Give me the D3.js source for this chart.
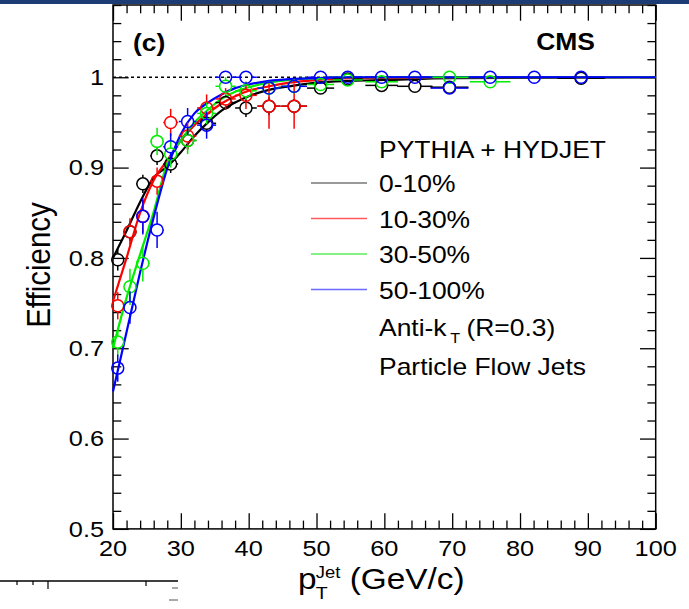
<!DOCTYPE html>
<html><head><meta charset="utf-8">
<script src="https://cdn.jsdelivr.net/npm/d3@7"></script>
<style>
html,body{margin:0;padding:0;background:#fff;}
svg{display:block;font-family:"Liberation Sans",Arial,Helvetica,sans-serif;}
</style></head>
<body>
<svg id="c" width="689" height="609"></svg>
<script>
// ---------------- data ----------------
const ptBins = [20.7, 22.5, 24.4, 26.5, 28.5, 31.0, 33.8, 36.6, 39.6, 43.0, 46.7, 50.6, 54.6, 59.6, 64.5, 69.6, 75.6, 82.1, 89.0];
const ptErr  = [0.9, 0.9, 1.0, 1.0, 1.1, 1.3, 1.4, 1.5, 1.6, 1.7, 1.9, 2.0, 2.2, 2.4, 2.6, 2.8, 3.0, 3.3, 3.5];

const eff0_10   = [0.798, 0.829, 0.882, 0.913, 0.904, 0.930, 0.949, 0.972, 0.966, 0.968, 0.968, 0.988, 0.998, 0.991, 0.990, 0.989, null, null, 0.999];
const err0_10   = [0.012, 0.010, 0.010, 0.010, 0.010, 0.010, 0.010, 0.008, 0.010, 0.010, 0.008, 0.004, 0.003, 0.003, 0.003, 0.004, null, null, 0.002];
const eff10_30  = [0.747, 0.829, 0.846, 0.885, 0.950, 0.935, 0.966, 0.976, 0.980, 0.968, 0.968, null, null, null, null, null, null, null, null];
const err10_30  = [0.015, 0.015, 0.018, 0.015, 0.015, 0.015, 0.015, 0.012, 0.015, 0.025, 0.025, null, null, null, null, null, null, null, null];
const eff30_50  = [0.707, 0.768, 0.794, 0.929, 0.915, 0.930, 0.960, 0.990, 0.985, 0.988, 0.990, 0.992, 0.997, 0.995, null, 1.000, 0.995, null, null];
const err30_50  = [0.015, 0.020, 0.020, 0.015, 0.015, 0.015, 0.012, 0.010, 0.010, 0.008, 0.008, 0.005, 0.004, 0.004, null, 0.003, 0.003, null, null];
const eff50_100 = [0.678, 0.745, 0.846, 0.831, 0.923, 0.951, 0.947, 1.000, 1.000, 0.988, 0.990, 1.000, 1.000, 1.000, 1.000, 0.988, 1.000, 1.000, 1.000];
const err50_100 = [0.015, 0.018, 0.020, 0.020, 0.015, 0.015, 0.015, 0.004, 0.004, 0.006, 0.006, 0.002, 0.002, 0.002, 0.002, 0.004, 0.002, 0.002, 0.002];

// fitted curves
const fitPt        = [20, 22, 24, 26, 28, 30, 32, 34, 36, 38, 40, 43, 46, 50, 55, 60, 70, 100];
const fit0_10      = [0.800, 0.830, 0.862, 0.889, 0.901, 0.917, 0.935, 0.950, 0.963, 0.972, 0.979, 0.986, 0.990, 0.994, 0.996, 0.997, 0.999, 1.000];
const fit10_30     = [0.752, 0.800, 0.850, 0.886, 0.908, 0.930, 0.947, 0.960, 0.971, 0.979, 0.985, 0.990, 0.994, 0.997, 0.999, 0.999, 1.000, 1.000];
const fit30_50     = [0.700, 0.756, 0.804, 0.851, 0.905, 0.930, 0.950, 0.964, 0.976, 0.984, 0.989, 0.994, 0.997, 0.999, 1.000, 1.000, 1.000, 1.000];
const fit50_100    = [0.652, 0.718, 0.784, 0.845, 0.899, 0.937, 0.960, 0.972, 0.981, 0.988, 0.992, 0.996, 0.998, 0.999, 1.000, 1.000, 1.000, 1.000];

const seriesNames  = ["0-10%", "10-30%", "30-50%", "50-100%"];
const seriesColors = ["#000000", "#ff0000", "#00ee00", "#0000ff"];
const legendColors = ["#777777", "#ff5a5a", "#5aee5a", "#6a6aff"];

const xTicks = [20, 30, 40, 50, 60, 70, 80, 90, 100];
const yTicks = [0.5, 0.6, 0.7, 0.8, 0.9, 1.0];
const yTickLabels = ["0.5", "0.6", "0.7", "0.8", "0.9", "1"];

// ---------------- layout ----------------
const L = 113, R = 655.7, T = 5, B = 528.9;
const SX = 1.15; // horizontal stretch of the original picture's text
const svg = d3.select("#c");
const x = d3.scaleLinear().domain([20, 100]).range([L, R]);
const y = d3.scaleLinear().domain([0.5, 1.08]).range([B, T]);

// top bar
svg.append("rect").attr("x", 0).attr("y", 0).attr("width", 689).attr("height", 4).attr("fill", "#1d3b74");

// dotted line at 1
svg.append("line").attr("x1", x(20)).attr("x2", x(100)).attr("y1", y(1)).attr("y2", y(1))
  .attr("stroke", "#000").attr("stroke-width", 1.3).attr("stroke-dasharray", "3,3");

// axes ticks
const majX = xTicks, minX = d3.range(22, 100, 2).filter(v => v % 10 !== 0);
const majY = yTicks.concat([]), minY = d3.range(0.52, 1.08, 0.02).map(v => +v.toFixed(2)).filter(v => Math.abs(v*10 - Math.round(v*10)) > 1e-6);
function addAxis(gen, tr, vals, size) {
  const g = svg.append("g").attr("transform", tr)
    .call(gen.tickValues(vals).tickSizeInner(-size).tickSizeOuter(0).tickFormat(""));
  g.select(".domain").remove();
  g.selectAll("line").attr("stroke", "#000").attr("stroke-width", 1.3);
}
addAxis(d3.axisBottom(x), `translate(0,${B})`, majX, 15.7);
addAxis(d3.axisBottom(x), `translate(0,${B})`, minX, 8.3);
addAxis(d3.axisTop(x), `translate(0,${T})`, majX, 15.7);
addAxis(d3.axisTop(x), `translate(0,${T})`, minX, 8.3);
addAxis(d3.axisLeft(y), `translate(${L},0)`, majY, 15.7);
addAxis(d3.axisLeft(y), `translate(${L},0)`, minY, 8.3);
addAxis(d3.axisRight(y), `translate(${R},0)`, majY, 15.7);
addAxis(d3.axisRight(y), `translate(${R},0)`, minY, 8.3);

svg.append("rect").attr("x", L).attr("y", T).attr("width", R - L).attr("height", B - T)
  .attr("fill", "none").attr("stroke", "#000").attr("stroke-width", 1.5);

// stretched text helper
function txt(px, py, s, size, anchor, weight, parent) {
  const g = (parent || svg).append("g").attr("transform", `translate(${px},${py}) scale(${SX},1)`);
  const t = g.append("text").attr("font-size", size).attr("text-anchor", anchor || "start")
    .attr("font-weight", weight || "normal").attr("fill", "#000").text(s);
  return t;
}

// tick labels
yTicks.forEach((v, i) => txt(104, y(v) + 7.7, yTickLabels[i], 22, "end"));
xTicks.forEach(v => txt(x(v), 556, String(v), 22, "middle"));

// axis titles
const yt = svg.append("g").attr("transform", `translate(50,265) rotate(-90)`);
yt.append("text").attr("font-size", 29.5).attr("text-anchor", "middle").attr("transform", "scale(1,1.15)").text("Efficiency");

const xt = svg.append("g").attr("transform", `translate(298,589) scale(${SX},1)`);
xt.append("text").attr("font-size", 29).text("p");
xt.append("text").attr("x", 15.5).attr("y", 10).attr("font-size", 17).text("T");
xt.append("text").attr("x", 15.5).attr("y", -11.5).attr("font-size", 16).text("Jet");
xt.append("text").attr("x", 45).attr("font-size", 29).text("(GeV/c)");

// panel labels
txt(133, 51, "(c)", 23, "start", "bold");
txt(595, 50, "CMS", 23, "end", "bold");

// fit curves
const fits = [fit0_10, fit10_30, fit30_50, fit50_100];
const line = d3.line().x(d => x(d[0])).y(d => y(d[1])).curve(d3.curveMonotoneX);
fits.forEach((f, k) => {
  svg.append("path").attr("d", line(fitPt.map((p, i) => [p, f[i]])))
    .attr("fill", "none").attr("stroke", seriesColors[k]).attr("stroke-width", 2.2);
});

// data points
const effs = [eff0_10, eff10_30, eff30_50, eff50_100];
const errs = [err0_10, err10_30, err30_50, err50_100];
const rM = 6;
effs.forEach((e, k) => {
  const g = svg.append("g").attr("stroke", seriesColors[k]).attr("fill", "none").attr("stroke-width", 1.5);
  ptBins.forEach((p, i) => {
    if (e[i] == null) return;
    const cx = x(p), cy = y(e[i]);
    const ex = x(p + ptErr[i]) - cx, ey = y(e[i] - errs[k][i]) - cy;
    if (ey > rM) {
      g.append("line").attr("x1", cx).attr("x2", cx).attr("y1", cy - ey).attr("y2", cy - rM);
      g.append("line").attr("x1", cx).attr("x2", cx).attr("y1", cy + rM).attr("y2", cy + ey);
    }
    if (ex > rM) {
      g.append("line").attr("x1", cx - ex).attr("x2", cx - rM).attr("y1", cy).attr("y2", cy);
      g.append("line").attr("x1", cx + rM).attr("x2", cx + ex).attr("y1", cy).attr("y2", cy);
    }
    g.append("circle").attr("cx", cx).attr("cy", cy).attr("r", rM);
  });
});

// legend
txt(379, 158, "PYTHIA + HYDJET", 23);
const legY = [183, 218.5, 254, 289.5];
seriesNames.forEach((n, k) => {
  svg.append("line").attr("x1", 311).attr("x2", 367).attr("y1", legY[k]).attr("y2", legY[k])
    .attr("stroke", legendColors[k]).attr("stroke-width", 1.3);
  txt(379, legY[k] + 9, n, 23);
});
const ak = svg.append("g").attr("transform", `translate(379,336) scale(${SX},1)`);
ak.append("text").attr("font-size", 23).text("Anti-k");
ak.append("text").attr("x", 62).attr("y", 7).attr("font-size", 14).text("T");
ak.append("text").attr("x", 76).attr("font-size", 23).text("(R=0.3)");
txt(379, 375, "Particle Flow Jets", 23);

// fragment of neighbouring panel at bottom-left
const frag = svg.append("g").attr("stroke", "#000");
frag.append("line").attr("x1", 0).attr("x2", 178).attr("y1", 581).attr("y2", 581).attr("stroke-width", 1.5);
[[17, 4], [33, 4], [48, 8], [146, 5]].forEach(d => frag.append("line").attr("x1", d[0]).attr("x2", d[0]).attr("y1", 581).attr("y2", 581 + d[1]).attr("stroke-width", 1.2));
frag.append("line").attr("x1", 172).attr("x2", 178).attr("y1", 588).attr("y2", 588).attr("stroke-width", 1).attr("stroke", "#555");
frag.append("line").attr("x1", 169).attr("x2", 178).attr("y1", 600).attr("y2", 600).attr("stroke-width", 1).attr("stroke", "#555");
</script>
</body></html>
